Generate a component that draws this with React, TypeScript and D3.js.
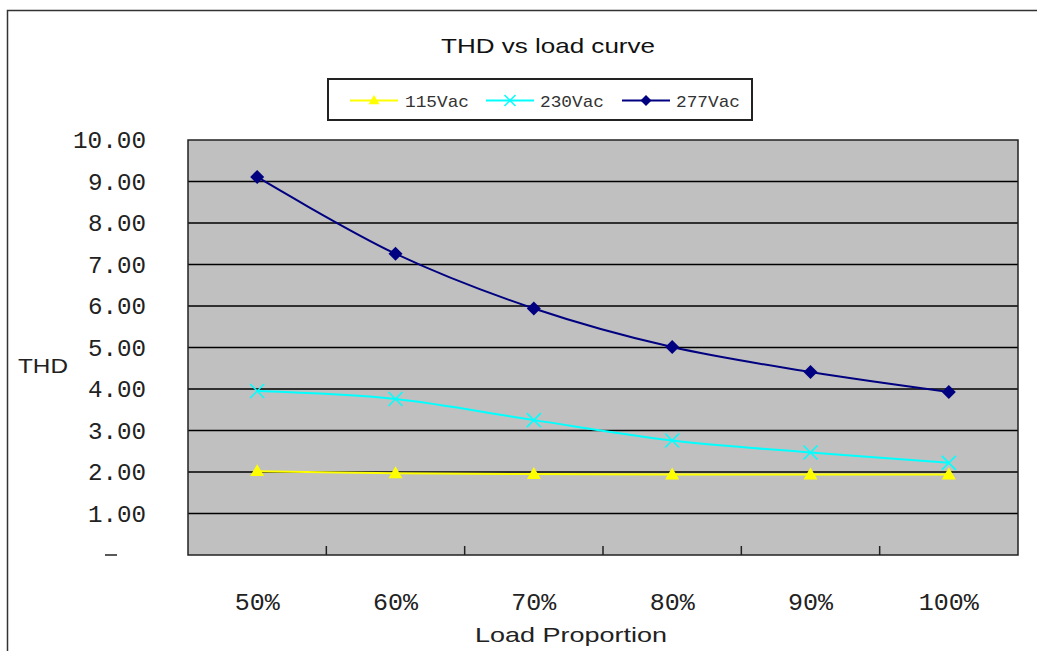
import React from "react";
import * as d3 from "d3";

const categories = ["50%", "60%", "70%", "80%", "90%", "100%"];
const yTicks = [0, 1, 2, 3, 4, 5, 6, 7, 8, 9, 10];
const s115 = [2.02, 1.97, 1.95, 1.94, 1.94, 1.94];
const s230 = [3.95, 3.76, 3.25, 2.76, 2.47, 2.22];
const s277 = [9.11, 7.26, 5.94, 5.01, 4.41, 3.93];

const series = [
  { name: "115Vac", values: s115, color: "#ffff00", marker: "triangle" },
  { name: "230Vac", values: s230, color: "#00ffff", marker: "x" },
  { name: "277Vac", values: s277, color: "#000080", marker: "diamond" },
];

const W = 1037, H = 651;
const plot = { left: 188, right: 1018, top: 140, bottom: 555 };

function Marker({ type, x, y, color, size = 7 }: { type: string; x: number; y: number; color: string; size?: number }) {
  const s = size;
  if (type === "triangle") {
    return <path d={`M${x},${y - s} L${x + s},${y + s * 0.7} L${x - s},${y + s * 0.7} Z`} fill={color} />;
  }
  if (type === "x") {
    return (
      <path d={`M${x - s},${y - s} L${x + s},${y + s} M${x + s},${y - s} L${x - s},${y + s}`} stroke={color} strokeWidth={1.5} />
    );
  }
  return <path d={`M${x},${y - s} L${x + s},${y} L${x},${y + s} L${x - s},${y} Z`} fill={color} />;
}

export default function App() {
  const x = d3.scaleBand<string>().domain(categories).range([plot.left, plot.right]);
  const y = d3.scaleLinear().domain([0, 10]).range([plot.bottom, plot.top]);
  const cx = (c: string) => (x(c) as number) + x.bandwidth() / 2;
  const line = d3
    .line<number>()
    .x((_, i) => cx(categories[i]))
    .y((d) => y(d))
    .curve(d3.curveCatmullRom.alpha(0.5));

  const legend = { x: 328, y: 79, w: 424, h: 41 };
  const legendItems = [
    { lx: 350, tx: 405 },
    { lx: 486, tx: 540 },
    { lx: 622, tx: 676 },
  ];

  return (
    <svg width={W} height={H} style={{ position: "absolute", left: 0, top: 0 }}>
      <rect x={0} y={0} width={W} height={H} fill="#fff" />
      <path d={`M7.5,${H} L7.5,10.5 L${W},10.5`} fill="none" stroke="#333" strokeWidth={1.5} />
      <text x={548} y={53} textAnchor="middle" fontFamily="Liberation Sans, Arial, sans-serif" fontSize={21} fill="#111" textLength={214} lengthAdjust="spacingAndGlyphs">
        THD vs load curve
      </text>
      <rect x={legend.x} y={legend.y} width={legend.w} height={legend.h} fill="#fff" stroke="#222" strokeWidth={2} />
      {series.map((s, i) => {
        const it = legendItems[i];
        const ly = legend.y + legend.h / 2 + 1;
        return (
          <g key={s.name}>
            <line x1={it.lx} x2={it.lx + 48} y1={ly} y2={ly} stroke={s.color} strokeWidth={2} />
            <Marker type={s.marker} x={it.lx + 24} y={ly} color={s.color} size={5.5} />
            <text x={it.tx} y={ly + 6} fontFamily="Liberation Mono, monospace" fontSize={17} fill="#333" textLength={64} lengthAdjust="spacingAndGlyphs">
              {s.name}
            </text>
          </g>
        );
      })}
      <rect x={plot.left} y={plot.top} width={plot.right - plot.left} height={plot.bottom - plot.top} fill="#c0c0c0" />
      {yTicks.filter((t) => t > 0 && t < 10).map((t) => (
        <line key={t} x1={plot.left} x2={plot.right} y1={y(t)} y2={y(t)} stroke="#000" strokeWidth={1.5} />
      ))}
      <rect x={plot.left} y={plot.top} width={plot.right - plot.left} height={plot.bottom - plot.top} fill="none" stroke="#222" strokeWidth={1.5} />
      {categories.slice(1).map((c) => (
        <line key={c} x1={x(c) as number} x2={x(c) as number} y1={plot.bottom} y2={plot.bottom - 9} stroke="#222" strokeWidth={1.5} />
      ))}
      {yTicks.map((t) =>
        t === 0 ? (
          <line key={t} x1={105} x2={117} y1={y(t)} y2={y(t)} stroke="#222" strokeWidth={1.5} />
        ) : (
          <text key={t} x={146} y={y(t) + 8} textAnchor="end" fontFamily="Liberation Mono, monospace" fontSize={23} fill="#222" textLength={t === 10 ? 73 : 58} lengthAdjust="spacingAndGlyphs">
            {t.toFixed(2)}
          </text>
        )
      )}
      {categories.map((c) => (
        <text key={c} x={cx(c)} y={610} textAnchor="middle" fontFamily="Liberation Mono, monospace" fontSize={23} fill="#222" textLength={c.length * 15} lengthAdjust="spacingAndGlyphs">
          {c}
        </text>
      ))}
      <text x={18} y={373} fontFamily="Liberation Sans, Arial, sans-serif" fontSize={20} fill="#222" textLength={50} lengthAdjust="spacingAndGlyphs">THD</text>
      <text x={571} y={642} textAnchor="middle" fontFamily="Liberation Sans, Arial, sans-serif" fontSize={21} fill="#222" textLength={192} lengthAdjust="spacingAndGlyphs">Load Proportion</text>
      {series.map((s) => (
        <g key={s.name}>
          <path d={line(s.values) || ""} fill="none" stroke={s.color} strokeWidth={2} />
          {s.values.map((v, i) => (
            <Marker key={i} type={s.marker} x={cx(categories[i])} y={y(v)} color={s.color} />
          ))}
        </g>
      ))}
    </svg>
  );
}
